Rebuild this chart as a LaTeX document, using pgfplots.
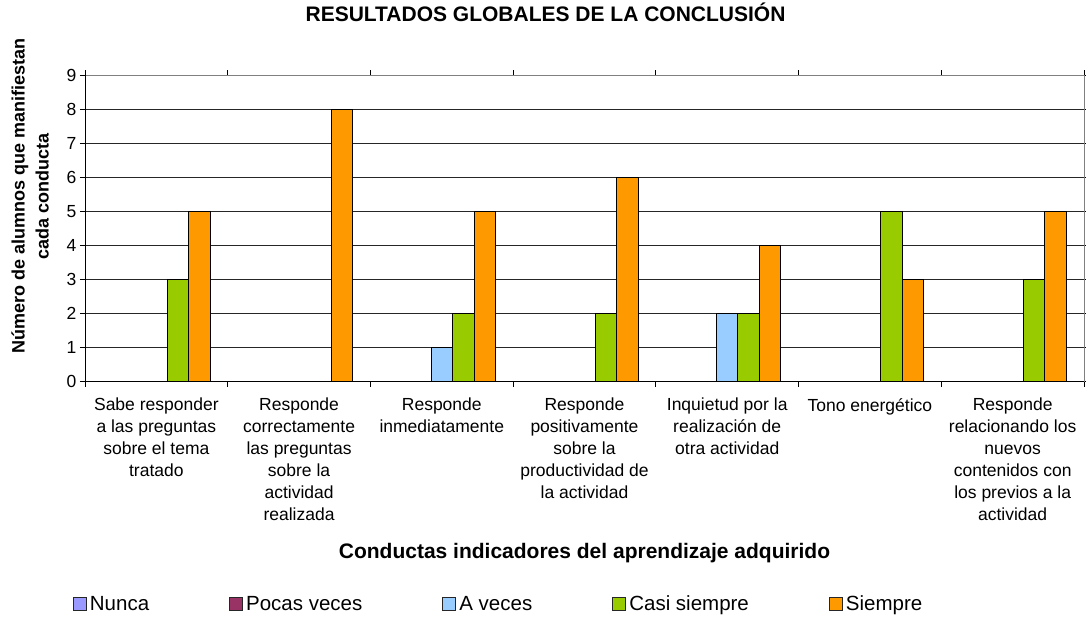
\documentclass[border=0pt]{standalone}
\usepackage{pgfplots}
\pgfplotsset{compat=1.18}
\usepackage{fontspec}
\setmainfont{Liberation Sans}
\definecolor{nunca}{HTML}{9999FF}
\definecolor{pocas}{HTML}{993366}
\definecolor{aveces}{HTML}{99CCFF}
\definecolor{casi}{HTML}{99CC00}
\definecolor{siempre}{HTML}{FF9900}
\pgfplotsset{sq/.style={legend image code/.code={\draw[##1, draw=black!85, line width=1bp] (0bp,-6.5bp) rectangle (13bp,6.5bp);}}}
\begin{document}
\begin{tikzpicture}
\path[use as bounding box] (0,0) rectangle (1086bp,623bp);
\begin{axis}[
  at={(85bp,241.3bp)}, anchor=south west,
  scale only axis, width=999bp, height=306.7bp,
  xmin=-0.5, xmax=6.5, ymin=0, ymax=9,
  ybar, bar width=21.5bp,
  ytick={0,...,9},
  xtick={-0.5,0.5,...,6.5}, xticklabel={\relax},
  extra x ticks={0,...,6},
  extra x tick style={major tick length=0pt, grid=none},
  extra x tick labels={{Sabe responder\\a las preguntas\\sobre el tema\\tratado},
    {Responde\\correctamente\\las preguntas\\sobre la\\actividad\\realizada},
    {Responde\\inmediatamente},
    {Responde\\positivamente\\sobre la\\productividad de\\la actividad},
    {Inquietud por la\\realización de\\otra actividad},
    {Tono energético},
    {Responde\\relacionando los\\nuevos\\contenidos con\\los previos a la\\actividad}},
  tick align=outside, major tick length=5bp,
  tick style={black, line width=1bp},
  xticklabel style={align=center, font=\fontsize{17.5bp}{22bp}\selectfont, yshift=-13bp},
  yticklabel style={font=\fontsize{17.5bp}{22bp}\selectfont},
  /pgf/number format/assume math mode=true,
  ymajorgrids, major grid style={black!85, line width=1bp},
  axis line style={draw=gray, line width=1bp},
  title={RESULTADOS GLOBALES DE LA CONCLUSIÓN},
  title style={at={(axis description cs:0.461,1.186)}, anchor=center, font=\bfseries\fontsize{21bp}{25bp}\selectfont},
  xlabel={Conductas indicadores del aprendizaje adquirido},
  xlabel style={at={(axis description cs:0.5,-0.5585)}, anchor=center, font=\bfseries\fontsize{21bp}{25bp}\selectfont},
  ylabel={Número de alumnos que manifiestan\\cada conducta},
  ylabel style={at={(axis description cs:-0.055,0.6055)}, anchor=center, align=center, font=\bfseries\fontsize{18bp}{24bp}\selectfont},
  legend style={at={(axis description cs:0.4145,-0.725)}, anchor=center, draw=none, fill=none,
    legend columns=5, /tikz/every even column/.append style={column sep=77bp},
    font=\fontsize{20.5bp}{24bp}\selectfont, nodes={inner xsep=3bp}},
]
\addlegendimage{sq, fill=nunca}
\addlegendentry{Nunca}
\addlegendimage{sq, fill=pocas}
\addlegendentry{Pocas veces}
\addplot[sq, fill=aveces, draw=black, line width=1bp, bar shift=0bp] coordinates {(2,1) (4,2)};
\addlegendentry{A veces}
\addplot[sq, fill=casi, draw=black, line width=1bp, bar shift=21.5bp] coordinates {(0,3) (2,2) (3,2) (4,2) (5,5) (6,3)};
\addlegendentry{Casi siempre}
\addplot[sq, fill=siempre, draw=black, line width=1bp, bar shift=43bp] coordinates {(0,5) (1,8) (2,5) (3,6) (4,4) (5,3) (6,5)};
\addlegendentry{Siempre}
\draw[black, line width=1bp] (rel axis cs:0,1) -- (rel axis cs:0,0) -- (rel axis cs:1,0);
\end{axis}
\end{tikzpicture}
\end{document}
